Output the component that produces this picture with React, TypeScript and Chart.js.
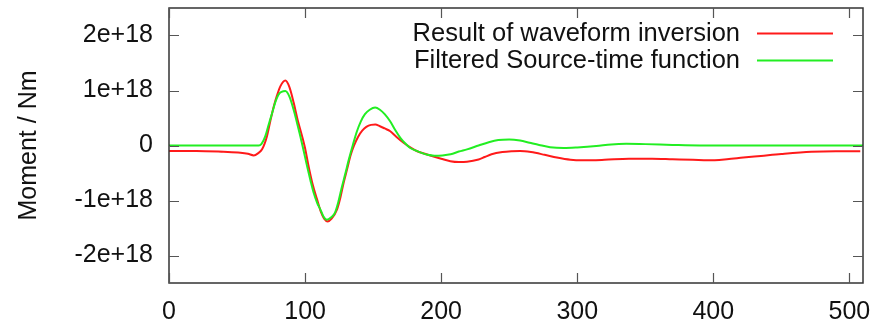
import React, { useEffect, useRef } from "react";
import { Chart, registerables } from "chart.js";

Chart.register(...registerables);

// Time samples (x) and moment values in units of 1e18 Nm
const RED_T = [0, 20, 40, 52.5, 58, 62.3, 65.5, 68.4, 72, 74.5, 77, 79.5, 81.9, 85.5, 88.5, 91.6, 94.5, 97.8, 100, 102.6, 105.5, 108.8, 111.5, 114, 116.6, 119.5, 123.5, 126, 128.3, 131, 133.3, 136, 139, 142, 145, 148.5, 151.6, 155, 158.5, 162.6, 167, 172.4, 177, 182, 188, 194.4, 200, 206.7, 213, 219, 227.5, 232, 237, 245, 252, 258, 266, 276, 285, 295, 304, 320, 338, 355, 370, 385, 396, 410, 422, 435, 450, 472, 490, 508];
const RED_V = [-0.1, -0.1, -0.115, -0.13, -0.15, -0.18, -0.14, -0.07, 0.17, 0.45, 0.71, 0.92, 1.08, 1.18, 1.06, 0.78, 0.47, 0.17, -0.05, -0.38, -0.7, -0.98, -1.2, -1.33, -1.38, -1.33, -1.16, -0.94, -0.68, -0.42, -0.19, 0.0, 0.16, 0.27, 0.34, 0.375, 0.38, 0.35, 0.31, 0.26, 0.16, 0.05, -0.03, -0.1, -0.15, -0.2, -0.24, -0.285, -0.3, -0.295, -0.255, -0.21, -0.16, -0.12, -0.105, -0.1, -0.12, -0.17, -0.22, -0.26, -0.27, -0.26, -0.24, -0.24, -0.25, -0.26, -0.27, -0.25, -0.22, -0.19, -0.155, -0.115, -0.105, -0.105];

const GREEN_T = [0, 30, 60, 66, 68, 70.8, 73, 75.8, 78, 80.6, 85.5, 88.5, 91.6, 94, 96.5, 99, 101.5, 104, 106.3, 109, 111.2, 113.5, 116, 119, 122, 124.5, 127, 129.5, 132, 135, 138, 141, 144, 147.5, 151.5, 155, 158.5, 162.5, 166, 170, 173.5, 177, 181, 185, 190, 195, 201, 207, 213, 219, 227.5, 235, 242, 250, 258, 265, 272, 280, 290, 300, 314, 325, 336, 350, 370, 390, 420, 460, 510];
const GREEN_V = [0, 0, 0, 0.0, 0.03, 0.17, 0.36, 0.59, 0.78, 0.93, 0.99, 0.89, 0.65, 0.42, 0.17, -0.1, -0.38, -0.64, -0.86, -1.05, -1.16, -1.29, -1.35, -1.31, -1.22, -1.02, -0.76, -0.52, -0.27, 0.0, 0.25, 0.44, 0.57, 0.65, 0.69, 0.65, 0.57, 0.44, 0.29, 0.14, 0.04, -0.04, -0.09, -0.13, -0.17, -0.185, -0.18, -0.16, -0.11, -0.07, 0.0, 0.06, 0.1, 0.11, 0.09, 0.05, 0.01, -0.03, -0.045, -0.035, -0.01, 0.02, 0.03, 0.025, 0.01, 0.0, 0.0, 0.0, 0.0];

const UNIT = 1e18;
const X_TICKS = [0, 100, 200, 300, 400, 500];
const Y_TICKS = [-2e18, -1e18, 0, 1e18, 2e18];
const Y_TICK_LABELS = ["-2e+18", "-1e+18", "0", "1e+18", "2e+18"];
const SERIES_LABELS = ["Result of waveform inversion", "Filtered Source-time function"];
const SERIES_COLORS = ["#ff1a1a", "#22ee22"];
const Y_TITLE = "Moment / Nm";

const FONT = "Liberation Sans, Arial, Helvetica, sans-serif";

export default function App() {
  const ref = useRef<HTMLCanvasElement | null>(null);

  useEffect(() => {
    document.body.style.margin = "0";
    const canvas = ref.current;
    if (!canvas) return;

    const framePlugin = {
      id: "gnuframe",
      afterDraw(chart: any) {
        const { ctx, chartArea } = chart;
        const xs = chart.scales.x;
        const ys = chart.scales.y;
        const { left, right, top, bottom } = chartArea;
        ctx.save();
        ctx.strokeStyle = "#333";
        ctx.lineWidth = 1.5;
        ctx.strokeRect(left, top, right - left, bottom - top);
        ctx.lineWidth = 1.2;
        ctx.strokeStyle = "#555";
        const tl = 10;
        ctx.beginPath();
        X_TICKS.forEach((v) => {
          const px = Math.round(xs.getPixelForValue(v)) + 0.5;
          ctx.moveTo(px, bottom);
          ctx.lineTo(px, bottom - tl);
          ctx.moveTo(px, top);
          ctx.lineTo(px, top + tl);
        });
        Y_TICKS.forEach((v) => {
          const py = Math.round(ys.getPixelForValue(v)) + 0.5;
          ctx.moveTo(left, py);
          ctx.lineTo(left + tl, py);
          ctx.moveTo(right, py);
          ctx.lineTo(right - tl, py);
        });
        ctx.stroke();

        // legend: text right aligned, then line sample
        ctx.font = `25.5px ${FONT}`;
        ctx.fillStyle = "#111";
        ctx.textAlign = "right";
        ctx.textBaseline = "middle";
        const textRight = 740;
        const rowY = [34, 61];
        SERIES_LABELS.forEach((lab, i) => {
          ctx.fillText(lab, textRight, rowY[i]);
          ctx.beginPath();
          ctx.strokeStyle = SERIES_COLORS[i];
          ctx.lineWidth = 2;
          ctx.moveTo(757, rowY[i] - 0.5);
          ctx.lineTo(833, rowY[i] - 0.5);
          ctx.stroke();
        });
        ctx.restore();
      },
    };

    const chart = new Chart(canvas, {
      type: "line",
      data: {
        datasets: [
          {
            label: SERIES_LABELS[0],
            data: RED_T.map((t, i) => ({ x: t, y: RED_V[i] * UNIT })),
            borderColor: SERIES_COLORS[0],
            borderWidth: 2,
            pointRadius: 0,
            cubicInterpolationMode: "monotone",
            fill: false,
            order: 2,
          },
          {
            label: SERIES_LABELS[1],
            data: GREEN_T.map((t, i) => ({ x: t, y: GREEN_V[i] * UNIT })),
            borderColor: SERIES_COLORS[1],
            borderWidth: 2,
            pointRadius: 0,
            cubicInterpolationMode: "monotone",
            fill: false,
            order: 1,
          },
        ],
      },
      options: {
        animation: false,
        responsive: false,
        maintainAspectRatio: false,
        layout: { padding: { top: 8, right: 25, left: 0, bottom: 0 } },
        plugins: {
          legend: { display: false },
          tooltip: { enabled: false },
          title: { display: false },
        },
        scales: {
          x: {
            type: "linear",
            min: 0,
            max: 510,
            grid: { display: false, drawTicks: false },
            border: { display: false },
            afterBuildTicks: (s: any) => {
              s.ticks = X_TICKS.map((v) => ({ value: v }));
            },
            afterFit: (s: any) => {
              s.height = 39;
              s.paddingLeft = 0;
              s.paddingRight = 0;
            },
            ticks: {
              color: "#111",
              padding: 14,
              maxRotation: 0,
              autoSkip: false,
              font: { family: FONT, size: 25 },
              callback: (v: any) => String(v),
            },
          },
          y: {
            type: "linear",
            min: -2.5e18,
            max: 2.5e18,
            grid: { display: false, drawTicks: false },
            border: { display: false },
            afterBuildTicks: (s: any) => {
              s.ticks = Y_TICKS.map((v) => ({ value: v }));
            },
            afterFit: (s: any) => {
              s.width = 169;
              s.paddingTop = 0;
              s.paddingBottom = 0;
            },
            title: {
              display: true,
              text: Y_TITLE,
              color: "#111",
              font: { family: FONT, size: 25 },
              padding: { top: 14, bottom: 0 },
            },
            ticks: {
              color: "#111",
              padding: 16,
              autoSkip: false,
              font: { family: FONT, size: 25 },
              callback: (v: any) => {
                const idx = Y_TICKS.indexOf(Number(v));
                return idx >= 0 ? Y_TICK_LABELS[idx] : "";
              },
            },
          },
        },
      },
      plugins: [framePlugin],
    });

    return () => chart.destroy();
  }, []);

  return (
    <div style={{ width: 888, height: 322, background: "#fff" }}>
      <canvas ref={ref} width={888} height={322} style={{ display: "block" }} />
    </div>
  );
}
